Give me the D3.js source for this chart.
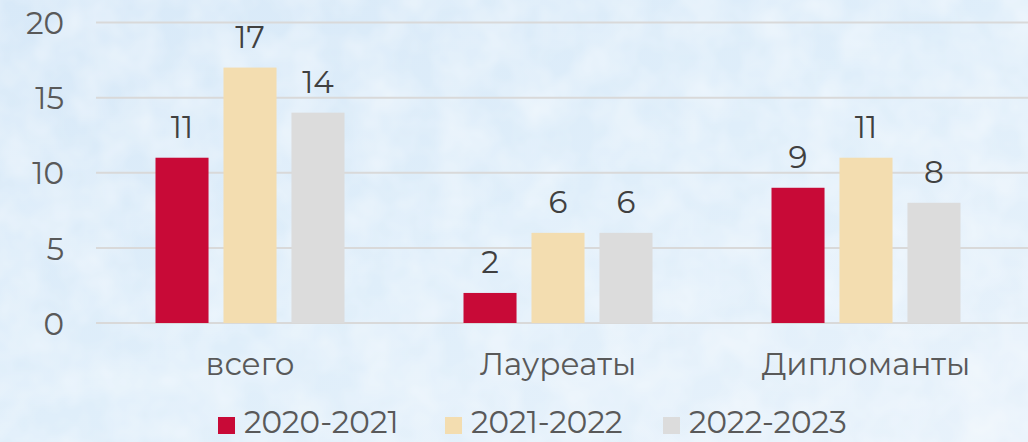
<!DOCTYPE html>
<html>
<head>
<meta charset="utf-8">
<script src="https://cdn.jsdelivr.net/npm/d3@7"></script>
<style>
  body { margin: 0; }
  svg { display: block; }
</style>
</head>
<body>
<script>
let categories = ['всего', 'Лауреаты', 'Дипломанты']
let seriesNames = ['2020-2021', '2021-2022', '2022-2023']
let values2020 = [11, 2, 9]
let values2021 = [17, 6, 11]
let values2022 = [14, 6, 8]
let yTicks = [0, 5, 10, 15, 20]
let colors = ['#c80a37', '#f3ddb0', '#dcdcdc']

let width = 1028
let height = 442
let fontFam = "Montserrat, 'Open Sans', sans-serif"
let fs = 31

let table = seriesNames.map((s, i) => ({
  name: s,
  color: colors[i],
  values: [values2020, values2021, values2022][i]
}))

let svg = d3.select('body').append('svg')
  .attr('width', width)
  .attr('height', height)

// background, light watercolor blue
let defs = svg.append('defs')
let grad = defs.append('linearGradient').attr('id', 'bg')
  .attr('x1', 0).attr('y1', 0).attr('x2', 1).attr('y2', 1)
grad.append('stop').attr('offset', '0%').attr('stop-color', '#d8e9f8')
grad.append('stop').attr('offset', '50%').attr('stop-color', '#dfeefa')
grad.append('stop').attr('offset', '100%').attr('stop-color', '#e8f2fb')

let filt = defs.append('filter').attr('id', 'tex')
filt.append('feTurbulence').attr('type', 'fractalNoise')
  .attr('baseFrequency', 0.025).attr('numOctaves', 3).attr('seed', 4)
filt.append('feColorMatrix').attr('type', 'matrix')
  .attr('values', '0 0 0 0 1  0 0 0 0 1  0 0 0 0 1  0 0 0 0.7 -0.2')

svg.append('rect').attr('width', width).attr('height', height).attr('fill', 'url(#bg)')
svg.append('rect').attr('width', width).attr('height', height).attr('filter', 'url(#tex)')

let x0 = d3.scaleBand()
  .domain(categories)
  .range([96, 1020])

let x1 = d3.scaleBand()
  .domain(seriesNames)
  .range([59.5, x0.bandwidth() - 59.5])
  .paddingInner(0.22)

let y = d3.scaleLinear()
  .domain([0, 20])
  .range([323, 22.5])

// grid
svg.append('g').selectAll('line')
  .data(yTicks)
  .enter()
  .append('line')
  .attr('x1', 96)
  .attr('x2', width)
  .attr('y1', d => y(d))
  .attr('y2', d => y(d))
  .attr('stroke', '#d9d9d9')
  .attr('stroke-width', 2)

// y axis labels
let yAxis = d3.axisLeft(y).tickValues(yTicks).tickSize(0).tickPadding(0)
let ya = svg.append('g')
  .attr('transform', 'translate(64,0)')
  .call(yAxis)
ya.select('.domain').remove()
ya.selectAll('text')
  .attr('font-size', fs)
  .attr('font-family', fontFam)
  .attr('fill', '#595959')
  .attr('dy', '0.36em')

// bars
let groups = svg.append('g').selectAll('g')
  .data(table)
  .enter()
  .append('g')
  .attr('fill', d => d.color)

groups.selectAll('rect')
  .data(d => d.values.map((v, i) => ({ s: d.name, c: categories[i], v: v })))
  .enter()
  .append('rect')
  .attr('x', d => x0(d.c) + x1(d.s))
  .attr('y', d => y(d.v))
  .attr('width', x1.bandwidth())
  .attr('height', d => y(0) - y(d.v))

// data labels
groups.selectAll('text')
  .data(d => d.values.map((v, i) => ({ s: d.name, c: categories[i], v: v })))
  .enter()
  .append('text')
  .attr('x', d => x0(d.c) + x1(d.s) + x1.bandwidth() / 2)
  .attr('y', d => y(d.v) - 20)
  .attr('text-anchor', 'middle')
  .attr('font-size', fs)
  .attr('font-family', fontFam)
  .attr('fill', '#404040')
  .text(d => d.v)

// category axis
let xAxis = d3.axisBottom(x0).tickSize(0).tickPadding(0)
let xa = svg.append('g')
  .attr('transform', 'translate(0,375)')
  .call(xAxis)
xa.select('.domain').remove()
xa.selectAll('text')
  .attr('font-size', fs)
  .attr('font-family', fontFam)
  .attr('fill', '#595959')
  .attr('dy', 0)

// legend
let legendX = [218, 445, 663]
let leg = svg.append('g').selectAll('g')
  .data(table)
  .enter()
  .append('g')
  .attr('transform', (d, i) => 'translate(' + legendX[i] + ',433)')

leg.append('rect')
  .attr('x', 0)
  .attr('y', -16)
  .attr('width', 17)
  .attr('height', 17)
  .attr('fill', d => d.color)

leg.append('text')
  .attr('x', 26)
  .attr('font-size', fs)
  .attr('font-family', fontFam)
  .attr('fill', '#595959')
  .text(d => d.name)
</script>
</body>
</html>
